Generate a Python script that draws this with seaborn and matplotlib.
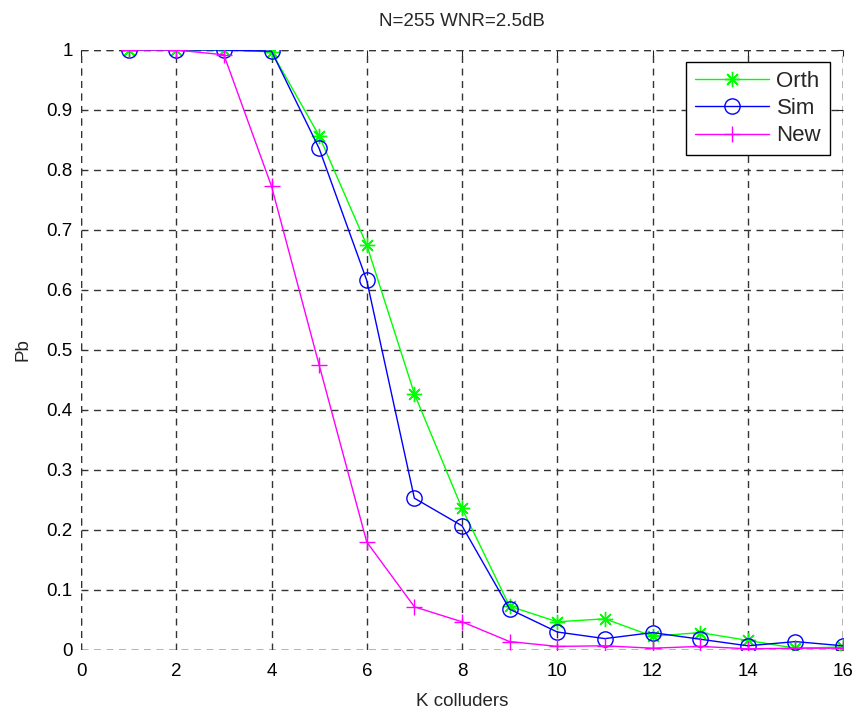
import numpy as np
import seaborn as sns
import matplotlib.pyplot as plt
from matplotlib.ticker import FixedLocator, FuncFormatter

# Données
k = list(range(1, 17))
orth = [1.0, 1.0, 1.0, 0.997, 0.857, 0.675, 0.427, 0.236, 0.073, 0.047,
        0.052, 0.023, 0.029, 0.016, 0.003, 0.005]
sim = [1.0, 1.0, 1.0, 0.998, 0.836, 0.616, 0.253, 0.207, 0.068, 0.030,
       0.019, 0.029, 0.018, 0.007, 0.014, 0.007]
new = [1.0, 1.0, 0.992, 0.773, 0.475, 0.180, 0.072, 0.047, 0.014, 0.006,
       0.007, 0.003, 0.006, 0.002, 0.003, 0.003]


def main():
    sns.set_style("white")
    plt.rcParams['font.family'] = ['Liberation Sans', 'DejaVu Sans']

    W, H = 863, 713
    fig = plt.figure(figsize=(W / 100, H / 100), dpi=100)
    ax = fig.add_axes([81 / W, (H - 650) / H, 762 / W, 600 / H])

    # Tracé des trois courbes
    sns.lineplot(x=k, y=orth, ax=ax, color=(0, 1, 0), lw=1, marker=(8, 2, 0),
                 markersize=11, markeredgecolor=(0, 1, 0), markeredgewidth=1,
                 label='Orth', zorder=3)
    sns.lineplot(x=k, y=sim, ax=ax, color=(0, 0, 1), lw=1, marker='o',
                 markersize=11, markerfacecolor='none', markeredgecolor=(0, 0, 1),
                 markeredgewidth=1, label='Sim', zorder=3)
    sns.lineplot(x=k, y=new, ax=ax, color=(1, 0, 1), lw=1, marker='+',
                 markersize=12, markeredgecolor=(1, 0, 1), markeredgewidth=1,
                 label='New', zorder=3)

    ax.set_xlim(0, 16)
    ax.set_ylim(0, 1)
    ax.xaxis.set_major_locator(FixedLocator(range(0, 17, 2)))
    ax.yaxis.set_major_locator(FixedLocator(np.round(np.arange(0, 1.01, 0.1), 1)))
    ax.yaxis.set_major_formatter(FuncFormatter(lambda v, p: f"{v:g}"))
    ax.tick_params(direction='in', length=4, width=0.8, top=True, right=True,
                   labelsize=13.5, colors='#222222', labelcolor='black')
    ax.tick_params(axis='x', pad=9)
    ax.tick_params(axis='y', pad=6)

    # Grille en tirets, y compris sur le cadre
    ax.grid(True, color='#333333', linestyle=(0, (5, 4)), linewidth=1)
    for s in ax.spines.values():
        s.set_visible(False)
    ax.axhline(0, color='#333333', ls=(0, (5, 4)), lw=1, zorder=1)
    ax.axhline(1, color='#333333', ls=(0, (5, 4)), lw=1, zorder=1)
    ax.axvline(0, color='#333333', ls=(0, (5, 4)), lw=1, zorder=1)
    ax.axvline(16, color='#333333', ls=(0, (5, 4)), lw=1, zorder=1)

    ax.set_title('N=255 WNR=2.5dB', fontsize=13.5, pad=17)
    ax.set_xlabel('K colluders', fontsize=13.5, labelpad=10)
    ax.set_ylabel('Pb', fontsize=13.5, labelpad=11)

    leg = ax.legend(loc='upper right', bbox_to_anchor=(830 / W, 1 - 62 / H),
                    bbox_transform=fig.transFigure, borderaxespad=0,
                    fontsize=16, frameon=True, fancybox=False,
                    edgecolor='black', framealpha=1, handlelength=3.3,
                    handletextpad=0.35, borderpad=0.4, labelspacing=0.28)
    leg.get_frame().set_linewidth(1)
    leg.set_zorder(5)

    plt.savefig('out.png', dpi=100)
    plt.close()


main()
